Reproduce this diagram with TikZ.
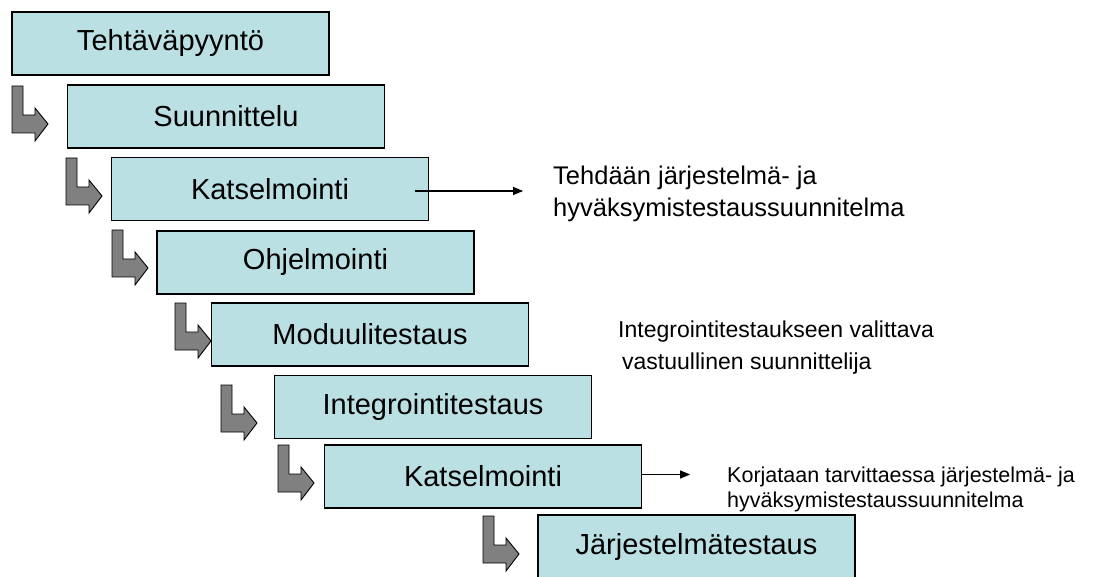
\documentclass[tikz,border=0pt]{standalone}
\usepackage{fontspec}
\setmainfont{Liberation Sans}
\usetikzlibrary{arrows.meta,calc}
\definecolor{boxfill}{RGB}{187,224,227}
\definecolor{arrowfill}{RGB}{128,128,128}
\begin{document}
\begin{tikzpicture}[x=1pt,y=-1pt,
  stepbox/.style={draw=black,line width=1.2pt,fill=boxfill,minimum width=317pt,minimum height=63pt,inner sep=0pt,font=\fontsize{29}{31}\selectfont},
  bent/.style={draw=black,line width=0.9pt,fill=arrowfill,line join=miter},
  note/.style={anchor=base west,inner sep=0pt,align=left},
  pointer/.style={line width=1.2pt,-{Triangle[length=10pt,width=8pt]}}
]
\useasboundingbox (0,0) rectangle (1097,577);
\clip (0,0) rectangle (1097,577);
% boxes
\node[stepbox] (b1) at (170.5,43.5) {Tehtäväpyyntö};
\node[stepbox] (b2) at (226,116.5) {Suunnittelu};
\node[stepbox] (b3) at (270,189) {Katselmointi};
\node[stepbox] (b4) at (315.5,262.5) {Ohjelmointi};
\node[stepbox] (b5) at (370,334.5) {Moduulitestaus};
\node[stepbox] (b6) at (433,407) {Integrointitestaus};
\node[stepbox] (b7) at (483,476.5) {Katselmointi};
\node[stepbox] (b8) at (696.5,546.5) {Järjestelmätestaus};
% bent arrows
\foreach \x/\y [count=\i] in {12/86,66/158,112/230,175/303,221/385,278/445,483/516}{
  \draw[bent] (\x,\y) -- ++(11,0) -- ++(0,29) -- ++(12,0) -- ++(0,-7) -- ++(13,16)
     -- ++(-13,17) -- ++(0,-8) -- ++(-23,0) -- cycle;
}
% annotations
\coordinate (s1) at ($(b3.east)+(-14,2)$);
\coordinate (e1) at ($(b3.east)+(94,2)$);
\draw[pointer] (s1) -- (e1);
\coordinate (e2) at ($(b7.east)+(48,-2)$);
\draw[pointer] ($(b7.east)+(0,-2)$) -- (e2);
\node[note,font=\fontsize{25.5}{32}\selectfont] (n1) at (553,217) {Tehdään järjestelmä- ja\\hyväksymistestaussuunnitelma};
\node[note,font=\fontsize{23}{32}\selectfont] (n2) at (618,369) {Integrointitestaukseen valittava\\\hspace{4pt}vastuullinen suunnittelija};
\node[note,font=\fontsize{21.5}{25}\selectfont] (n3) at (727,507) {Korjataan tarvittaessa järjestelmä- ja\\hyväksymistestaussuunnitelma};
\end{tikzpicture}
\end{document}
